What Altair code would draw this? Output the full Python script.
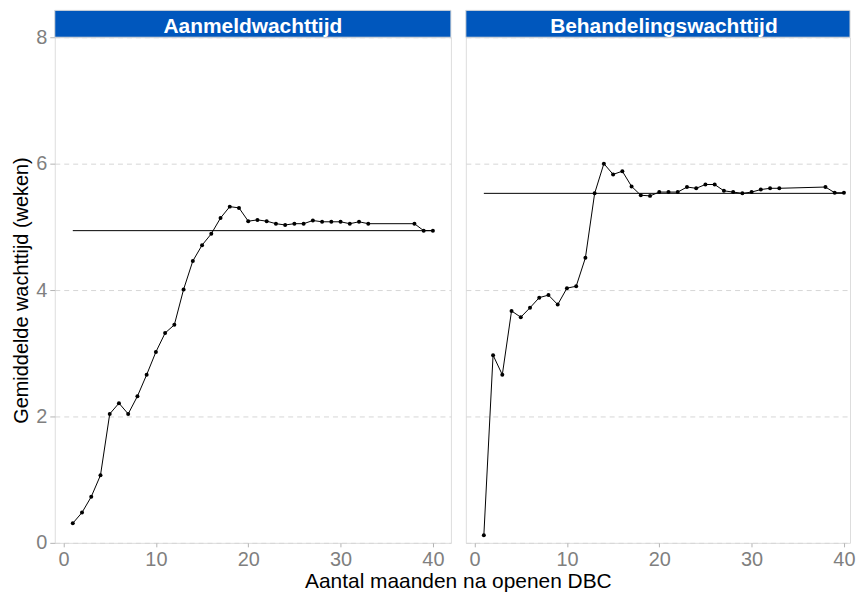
import altair as alt
import pandas as pd

# ---- data ----
months = list(range(1, 34)) + [38, 39, 40]
aanmeld = [0.31, 0.48, 0.73, 1.07, 2.04, 2.21, 2.04, 2.32, 2.66, 3.02, 3.32, 3.45, 4.01,
           4.46, 4.71, 4.89, 5.14, 5.32, 5.30, 5.09, 5.11, 5.09, 5.05, 5.03, 5.05, 5.05,
           5.10, 5.08, 5.08, 5.08, 5.05, 5.08, 5.05,
           5.05, 4.94, 4.94]
behandel = [0.12, 2.97, 2.66, 3.67, 3.57, 3.72, 3.88, 3.92, 3.77, 4.03, 4.06, 4.51,
            5.53, 6.00, 5.83, 5.88, 5.64, 5.50, 5.49, 5.55, 5.55, 5.55, 5.63, 5.61,
            5.67, 5.67, 5.57, 5.55, 5.53, 5.55, 5.59, 5.61, 5.61,
            5.63, 5.54, 5.54]
panels = ["Aanmeldwachttijd", "Behandelingswachttijd"]
means = [4.94, 5.53]
mean_from = [1, 1]
mean_to = [40, 40]
x_ticks = [0, 10, 20, 30, 40]
y_ticks = [0, 2, 4, 6, 8]
x_title = "Aantal maanden na openen DBC"
y_title = "Gemiddelde wachttijd (weken)"

FONT = "Liberation Sans"
H = 508
WIDTHS = [398, 386]
X_MAX = [41.95, 40.66]   # right panel is cut off by the image edge in the reference
HDR = 27
GAP = 15
BLUE = "#0057bd"
LABEL_GREY = "#7f7f7f"


def panel(idx, vals):
    first = idx == 0
    W = WIDTHS[idx]
    df = pd.DataFrame({"maand": months, "wachttijd": vals})
    mdf = pd.DataFrame({"x1": [mean_from[idx]], "x2": [mean_to[idx]], "gem": [means[idx]]})
    hdf = pd.DataFrame({"t": [panels[idx]]})
    xs = alt.Scale(domain=[-0.95, X_MAX[idx]], nice=False, zero=False)
    ys = alt.Scale(domain=[0, 8], nice=False)
    xaxis = alt.Axis(values=x_ticks, format="d", title=None, grid=False, domain=False,
                     tickColor="#b3b3b3", tickSize=4, labelFontSize=20,
                     labelColor=LABEL_GREY, labelPadding=3, labelFont=FONT)
    if first:
        yaxis = alt.Axis(values=y_ticks, format="d", title=y_title, grid=True,
                         gridDash=[5, 4], gridColor="#d6d6d6", domain=False,
                         tickColor="#b3b3b3", tickSize=5, labelFontSize=20,
                         labelColor=LABEL_GREY, labelPadding=3, labelFont=FONT,
                         titleFont=FONT, titleFontSize=20, titleFontWeight="normal",
                         titleColor="black", titlePadding=4)
    else:
        yaxis = alt.Axis(values=y_ticks, title=None, labels=False, ticks=False, grid=True,
                         gridDash=[5, 4], gridColor="#d6d6d6", domain=False)
    base = alt.Chart(df)
    line = base.mark_line(color="black", strokeWidth=1).encode(
        x=alt.X("maand:Q", scale=xs, axis=xaxis),
        y=alt.Y("wachttijd:Q", scale=ys, axis=yaxis),
    )
    pts = base.mark_circle(color="black", size=16, opacity=1).encode(
        x=alt.X("maand:Q"), y=alt.Y("wachttijd:Q"))
    rule = alt.Chart(mdf).mark_rule(color="black", strokeWidth=1).encode(
        x="x1:Q", x2="x2:Q", y="gem:Q")
    hb = alt.Chart(hdf)
    hrect = hb.mark_rect(color=BLUE, stroke="#d9d9d9", strokeWidth=1).encode(
        x=alt.value(0), x2=alt.value(W), y=alt.value(-HDR), y2=alt.value(0))
    htext = hb.mark_text(color="white", fontWeight="bold", fontSize=21, font=FONT,
                         baseline="alphabetic", align="center").encode(
        x=alt.value(398 / 2), y=alt.value(-4), text="t:N")
    layers = [line, pts, rule, hrect, htext]
    if first:
        tdf = pd.DataFrame({"t": [x_title]})
        layers.append(alt.Chart(tdf).mark_text(
            fontSize=21, font=FONT, color="black", baseline="alphabetic",
            align="center").encode(x=alt.value(W + GAP / 2), y=alt.value(H + 45),
                                   text="t:N"))
    return alt.layer(*layers).properties(width=W, height=H)


chart = alt.hconcat(panel(0, aanmeld), panel(1, behandel), spacing=GAP,
                    bounds="flush").properties(
    padding={"left": 3, "top": 0, "right": 0, "bottom": 0},
).configure_view(stroke="#d9d9d9", strokeWidth=1).configure(background="white")

chart.save("out.html", embed_options={"renderer": "svg", "actions": False})
